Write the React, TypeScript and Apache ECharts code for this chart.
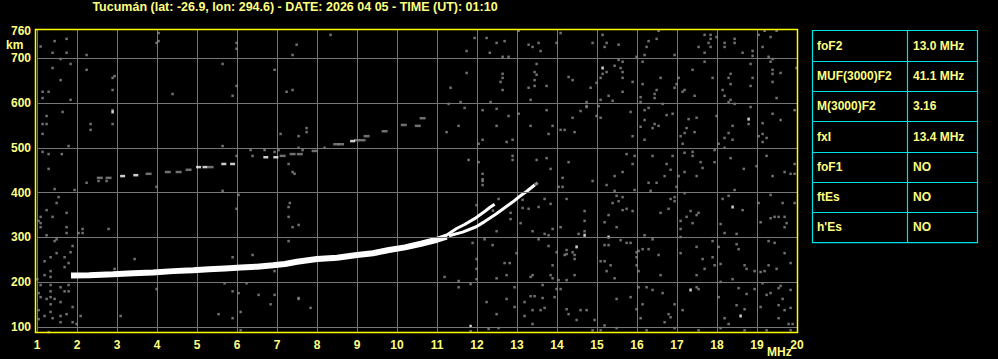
import React, { useEffect, useRef } from "react";
import * as echarts from "echarts";

const TITLE = "Tucumán (lat: -26.9, lon: 294.6) - DATE: 2026 04 05 - TIME (UT): 01:10";
const FREQ_MIN = 1;
const FREQ_MAX = 20;
const HEIGHT_MIN = 87;
const HEIGHT_MAX = 765;
const HEIGHT_GRID = [100, 200, 300, 400, 500, 600, 700];
const HEIGHT_LABELS = [100, 200, 300, 400, 500, 600, 700, 760];
const X_UNIT = "MHz";
const Y_UNIT = "km";

const TABLE_PARAMS = ["foF2", "MUF(3000)F2", "M(3000)F2", "fxI", "foF1", "ftEs", "h'Es"];
const TABLE_VALUES = ["13.0 MHz", "41.1 MHz", "3.16", "13.4 MHz", "NO", "NO", "NO"];

// F-layer trace [frequency MHz, virtual height km]
const MAIN_TRACE = [
  [1.85, 215], [2.3, 216], [2.9, 218], [3.4, 220], [3.9, 222], [4.4, 225], [4.9, 227],
  [5.3, 229], [5.7, 231], [6.1, 233], [6.5, 235], [6.9, 238], [7.2, 241], [7.5, 246],
  [8.0, 252], [8.5, 255], [9.0, 261], [9.4, 265], [9.8, 272], [10.2, 278], [10.6, 286],
  [11.0, 295], [11.24, 302],
];
const BRANCH_O = [
  [11.2, 303], [11.49, 320], [11.69, 329], [11.94, 342], [12.19, 358], [12.32, 367], [12.44, 374],
];
const BRANCH_X = [
  [11.3, 304], [11.64, 312], [11.98, 324], [12.2, 336], [12.44, 350], [12.64, 363], [12.89, 379],
  [13.07, 392], [13.23, 402], [13.44, 417],
];
const BRANCH_X_TAIL = [[13.44, 417], [13.52, 422]];

// second-hop echo
const HOP2_GRAY = [
  [2.57, 433], [2.79, 433], [3.79, 442], [4.27, 446], [4.54, 446], [4.79, 451], [5.34, 457],
  [7.14, 482], [7.39, 486], [7.57, 486], [7.94, 493], [8.48, 508], [8.6, 508], [9.0, 517],
  [9.14, 517], [9.24, 526], [9.69, 537], [10.17, 551], [10.52, 549], [10.64, 566],
];
const HOP2_WHITE = [
  [3.14, 437], [3.47, 439], [5.04, 457], [5.2, 457], [5.67, 464], [5.89, 464], [6.72, 479],
  [6.97, 479], [8.89, 515],
];

const NOISE_WHITE = [
  [2.89, 580], [15.14, 678], [18.79, 564], [18.39, 368], [14.69, 305], [15.29, 301],
  [14.49, 279], [17.34, 183], [18.59, 125], [11.84, 102],
];

const NOISE_GRAY = [
  [1.09, 726], [1.44, 738], [1.74, 743], [1.39, 712], [1.74, 712], [1.59, 698], [1.84, 687],
  [1.39, 678], [2.24, 707], [2.24, 674], [1.59, 651], [2.89, 656], [2.94, 660], [2.89, 629],
  [1.14, 625], [1.29, 625], [1.14, 611], [1.84, 607], [4.04, 756], [3.99, 734], [4.04, 738],
  [5.99, 734], [5.99, 721], [5.64, 687], [6.94, 674], [5.99, 638], [5.89, 616], [4.39, 620],
  [7.24, 625], [1.64, 580], [1.24, 571], [1.14, 553], [1.24, 553], [1.14, 531], [2.89, 584],
  [2.34, 553], [2.34, 540], [2.89, 553], [1.79, 504], [7.09, 531], [5.64, 504], [1.14, 491],
  [1.29, 486], [1.62, 486], [1.29, 453], [6.34, 495], [6.39, 482], [6.69, 495], [6.94, 491],
  [5.99, 482], [7.04, 495], [7.29, 464],
  [7.49, 730], [7.39, 707], [8.34, 752], [7.39, 629], [11.94, 745], [12.24, 745], [12.49, 734],
  [12.69, 738], [11.74, 716], [12.32, 712], [12.64, 703], [12.79, 703], [13.04, 761], [13.29, 730],
  [13.39, 725], [13.54, 734], [13.59, 716], [13.49, 687], [11.74, 667], [12.64, 665], [12.64, 656],
  [12.59, 647], [12.64, 629], [13.44, 669], [13.49, 663], [13.44, 651], [13.44, 638], [13.29, 634],
  [13.34, 607], [11.34, 634], [11.59, 602], [12.34, 602], [11.29, 598], [11.69, 589], [12.14, 584],
  [12.49, 587], [12.79, 571], [13.04, 576], [11.54, 549], [12.49, 549], [13.34, 549], [11.24, 535],
  [12.14, 518], [12.89, 518], [12.74, 513], [12.04, 509], [7.74, 544], [7.74, 535], [7.54, 526],
  [7.54, 500], [7.64, 495], [8.19, 500], [12.89, 482], [12.89, 473], [13.49, 473], [11.79, 473],
  [12.04, 468], [12.14, 442], [7.39, 446], [7.44, 442], [12.14, 430],
  [14.09, 756], [13.99, 734], [14.89, 734], [15.14, 752], [15.24, 734], [15.19, 725], [15.54, 730],
  [16.54, 761], [16.49, 743], [16.29, 738], [16.24, 725], [16.19, 707], [15.99, 703], [16.94, 707],
  [17.69, 752], [17.84, 752], [17.84, 743], [17.54, 725], [17.69, 712], [17.79, 734], [17.84, 725],
  [17.99, 747], [18.19, 734], [18.19, 725], [18.44, 743], [18.44, 734], [18.64, 712], [18.89, 716],
  [18.89, 705], [19.04, 752], [19.19, 761], [19.34, 747], [19.49, 761], [19.14, 725], [19.29, 703],
  [19.39, 698], [19.34, 692], [15.54, 696], [15.44, 683], [15.64, 692], [15.24, 669], [15.14, 665],
  [15.59, 678], [15.64, 669], [15.64, 656], [15.09, 656], [14.99, 645], [14.29, 658], [14.39, 651],
  [13.74, 638], [14.84, 634], [15.64, 625], [15.29, 616], [15.39, 605], [15.09, 607], [14.74, 602],
  [14.74, 591], [16.14, 692], [16.14, 642], [15.89, 647], [16.59, 656], [16.49, 629], [16.44, 620],
  [16.44, 611], [16.09, 613], [16.09, 602], [16.94, 634], [16.99, 642], [17.04, 656], [17.19, 629],
  [17.14, 625], [17.39, 674], [17.44, 616], [17.89, 656], [17.69, 692], [18.34, 665], [18.29, 656],
  [18.34, 642], [18.14, 629], [18.19, 616], [18.34, 607], [18.29, 602], [18.44, 598], [18.89, 656],
  [18.84, 638], [18.84, 687], [19.39, 674], [19.39, 665], [19.59, 667], [19.39, 647], [19.49, 611],
  [19.99, 678], [13.74, 584], [13.89, 549], [13.79, 531], [14.09, 540], [14.19, 540], [14.39, 567],
  [14.44, 535], [14.59, 582], [14.74, 593], [14.99, 571], [15.09, 567], [15.04, 593], [15.84, 580],
  [15.89, 526], [16.19, 584], [16.29, 589], [16.19, 562], [16.09, 547], [16.39, 544], [16.44, 553],
  [16.54, 549], [16.74, 573], [16.89, 576], [16.64, 598], [16.19, 518], [17.29, 564], [17.49, 567],
  [17.24, 544], [17.19, 533], [17.09, 526], [17.44, 535], [17.14, 509], [17.99, 571], [18.39, 549],
  [18.29, 533], [18.19, 522], [18.39, 518], [18.04, 509], [18.19, 500], [18.79, 553], [19.14, 555],
  [18.84, 591], [19.39, 576], [19.59, 562], [19.94, 584], [19.04, 526], [19.14, 531], [19.24, 522],
  [19.14, 513], [13.74, 477], [14.29, 468], [13.84, 453], [14.14, 433], [15.74, 486], [15.94, 482],
  [15.89, 464], [15.64, 446], [15.44, 437], [16.39, 482], [16.89, 482], [16.74, 464], [16.84, 451],
  [16.69, 437], [17.19, 489], [17.39, 491], [17.39, 482], [17.59, 468], [17.64, 455], [17.19, 446],
  [17.49, 437], [17.04, 437], [17.94, 495], [17.94, 468], [18.34, 477], [18.67, 453], [18.99, 459],
  [19.24, 482], [19.39, 437], [19.69, 446], [19.84, 442], [19.94, 464], [19.94, 442],
  [1.44, 408], [1.94, 406], [2.24, 422], [2.54, 426], [2.74, 426], [1.54, 390], [1.49, 377],
  [1.24, 361], [1.74, 355], [1.09, 346], [1.39, 346], [1.04, 337], [1.09, 332], [1.09, 323],
  [1.74, 323], [2.14, 319], [1.74, 310], [2.04, 310], [2.14, 310], [1.24, 305], [2.79, 319],
  [1.44, 292], [1.49, 296], [1.89, 281], [1.84, 267], [1.49, 265], [1.19, 247], [1.34, 256],
  [1.69, 256], [1.79, 243], [1.69, 234], [1.34, 225], [1.19, 216], [1.34, 212], [3.44, 252],
  [2.94, 230], [1.01, 207], [1.09, 194], [1.34, 194], [1.79, 194], [1.59, 189], [1.34, 180],
  [1.69, 180], [1.79, 180], [1.04, 176], [1.09, 167], [1.34, 167], [1.24, 163], [1.44, 163],
  [1.59, 156], [1.34, 151], [1.89, 145], [1.04, 138], [1.34, 134], [1.74, 129], [1.19, 125],
  [1.39, 120], [1.59, 125], [2.09, 125], [1.04, 118], [1.89, 111], [1.59, 111], [1.99, 107],
  [3.09, 125], [3.99, 413], [3.99, 185], [5.64, 404], [6.04, 395], [5.99, 364], [7.29, 368],
  [7.29, 346], [7.29, 292], [6.39, 261], [5.89, 256], [6.94, 225], [5.69, 198], [6.24, 198],
  [6.04, 176], [5.89, 180], [6.54, 172], [6.94, 172], [6.84, 151], [5.54, 129], [5.89, 120],
  [6.09, 134], [6.09, 93], [1.29, 89],
  [7.32, 377], [7.54, 328], [7.39, 323], [7.84, 143], [7.54, 165], [12.14, 417], [12.14, 426],
  [12.54, 386], [11.99, 372], [13.14, 384], [13.14, 366], [13.29, 364], [13.54, 368], [13.09, 332],
  [13.39, 314], [13.54, 296], [12.84, 355], [12.84, 341], [12.49, 314], [12.19, 296], [12.39, 283],
  [11.89, 288], [12.99, 265], [12.69, 243], [12.82, 243], [13.39, 216], [13.34, 212], [12.74, 216],
  [12.49, 209], [11.99, 252], [11.99, 230], [11.99, 207], [11.54, 203], [11.54, 189], [11.84, 196],
  [11.19, 212], [12.94, 189], [13.19, 156], [13.34, 169], [13.44, 169], [13.64, 165], [13.59, 138],
  [13.39, 138], [13.19, 125], [13.39, 107], [12.24, 156], [12.49, 129], [12.74, 163], [12.94, 145],
  [12.54, 98], [12.29, 96], [11.84, 91], [13.64, 194], [7.54, 163], [12.07, 328], [12.4, 360],
  [14.04, 413], [14.14, 413], [14.89, 426], [15.24, 417], [15.44, 404], [15.94, 406], [16.29, 422],
  [16.49, 422], [16.34, 404], [16.99, 413], [16.84, 386], [16.94, 390], [16.94, 381], [17.19, 399],
  [18.44, 406], [18.29, 393], [18.14, 386], [18.64, 361], [19.34, 395], [19.64, 377], [19.94, 377],
  [19.04, 377], [13.69, 386], [13.84, 375], [14.24, 386], [14.69, 359], [14.69, 337], [14.69, 314],
  [14.54, 308], [14.09, 323], [13.69, 308], [13.79, 305], [13.89, 319], [15.49, 393], [15.54, 381],
  [15.64, 390], [15.39, 377], [15.64, 361], [15.74, 364], [15.89, 359], [15.29, 350], [15.19, 334],
  [15.49, 323], [15.59, 294], [15.74, 288], [15.84, 288], [15.29, 283], [15.19, 283], [16.19, 305],
  [16.39, 296], [16.59, 355], [16.79, 364], [17.09, 337], [17.09, 319], [17.09, 301], [17.24, 346],
  [17.34, 359], [17.49, 350], [17.54, 355], [17.39, 332], [18.09, 330], [18.19, 310], [18.49, 308],
  [17.89, 292], [18.49, 285], [19.09, 334], [19.34, 343], [19.44, 346], [19.54, 346], [19.69, 346],
  [19.74, 332], [19.69, 323], [19.29, 292], [19.44, 288], [13.79, 281], [13.99, 267], [14.24, 272],
  [14.24, 263], [14.39, 267], [14.44, 261], [14.19, 261], [14.44, 252], [13.89, 238], [13.84, 216],
  [13.89, 209], [14.04, 205], [14.24, 205], [14.44, 216], [15.09, 247], [15.19, 247], [15.34, 238],
  [15.24, 225], [15.44, 209], [15.99, 267], [16.04, 270], [16.14, 274], [16.29, 274], [16.54, 261],
  [15.99, 256], [15.99, 238], [16.04, 225], [16.59, 216], [17.09, 265], [17.49, 279], [17.64, 252],
  [17.89, 256], [17.94, 238], [17.69, 230], [17.49, 216], [18.09, 241], [18.04, 279], [18.54, 274],
  [18.69, 238], [18.74, 230], [18.94, 225], [19.09, 223], [19.19, 225], [19.49, 230], [19.69, 265],
  [19.84, 243], [19.29, 238], [18.39, 207], [18.09, 201], [19.14, 198], [13.99, 185], [14.09, 185],
  [13.94, 167], [13.69, 143], [14.24, 140], [14.29, 129], [14.59, 138], [14.74, 138], [14.49, 116],
  [14.94, 116], [15.19, 104], [15.49, 163], [15.84, 167], [16.04, 189], [16.24, 189], [16.39, 183],
  [16.64, 176], [16.14, 151], [15.99, 140], [16.09, 120], [16.79, 129], [16.84, 122], [16.69, 111],
  [16.94, 151], [17.14, 138], [17.49, 189], [17.54, 185], [18.04, 167], [18.19, 120], [18.29, 107],
  [18.54, 187], [18.74, 174], [18.94, 185], [18.49, 149], [18.69, 140], [19.09, 145], [19.24, 172],
  [19.34, 176], [19.54, 187], [19.59, 192], [19.64, 163], [19.84, 183], [19.54, 149], [19.69, 138],
  [19.84, 143], [19.54, 120], [19.79, 107], [19.89, 107], [19.84, 93], [14.89, 93], [15.09, 93],
  [15.49, 98], [16.24, 93], [16.94, 98], [17.54, 93], [18.09, 98], [18.69, 93], [19.24, 93],
];

const FONT = '"Liberation Sans", Arial, sans-serif';
const TEXT_YELLOW = "#ffff80";
const FRAME_YELLOW = "#ffff00";
const CYAN = "#00e0e8";
const GRID_GRAY = "#767676";
const NOISE_COLOR = "#8c8c8c";

export default function App() {
  const ref = useRef<HTMLDivElement>(null);

  useEffect(() => {
    document.body.style.margin = "0";
    document.body.style.background = "#000";
    const chart = echarts.init(ref.current!, null, { renderer: "svg" });

    const tLeft = 812.5;
    const tRight = 977.5;
    const tMid = 907.5;
    const tTop = 30.5;
    const rowH = 30.3;
    const tableEls: any[] = [];
    const nRows = TABLE_PARAMS.length;
    tableEls.push({
      type: "rect",
      shape: { x: tLeft, y: tTop, width: tRight - tLeft, height: rowH * nRows },
      style: { fill: "none", stroke: CYAN, lineWidth: 1.2 },
    });
    tableEls.push({
      type: "line",
      shape: { x1: tMid, y1: tTop, x2: tMid, y2: tTop + rowH * nRows },
      style: { stroke: CYAN, lineWidth: 1.2 },
    });
    for (let i = 0; i < nRows; i++) {
      const yTop = Math.round(tTop + rowH * i) + 0.5;
      if (i > 0) {
        tableEls.push({
          type: "line",
          shape: { x1: tLeft, y1: yTop, x2: tRight, y2: yTop },
          style: { stroke: CYAN, lineWidth: 1.2 },
        });
      }
      const yc = tTop + rowH * (i + 0.5);
      tableEls.push({
        type: "text",
        style: {
          text: TABLE_PARAMS[i], x: 817, y: yc, fill: TEXT_YELLOW,
          font: `bold 12px ${FONT}`, textAlign: "left", textVerticalAlign: "middle",
        },
      });
      tableEls.push({
        type: "text",
        style: {
          text: TABLE_VALUES[i], x: 913, y: yc, fill: TEXT_YELLOW,
          font: `bold 12px ${FONT}`, textAlign: "left", textVerticalAlign: "middle",
        },
      });
    }

    chart.setOption({
      animation: false,
      backgroundColor: "#000",
      grid: {
        left: 37, top: 29, width: 760, height: 304,
        outerBoundsMode: "none", containLabel: false,
      },
      xAxis: {
        type: "value", min: FREQ_MIN, max: FREQ_MAX, interval: 1,
        axisLine: { show: false }, axisTick: { show: false },
        splitLine: { show: true, lineStyle: { color: GRID_GRAY, width: 1 } },
        axisLabel: {
          color: TEXT_YELLOW, fontWeight: "bold", fontSize: 12, fontFamily: FONT, margin: 6,
        },
      },
      yAxis: {
        type: "value", min: HEIGHT_MIN, max: HEIGHT_MAX,
        axisLine: { show: false }, axisTick: { show: false },
        splitLine: { show: false },
        axisLabel: {
          customValues: HEIGHT_LABELS,
          color: TEXT_YELLOW, fontWeight: "bold", fontSize: 12, fontFamily: FONT, margin: 6,
        },
      },
      graphic: [
        {
          type: "text",
          style: {
            text: TITLE, x: 295, y: 7, fill: TEXT_YELLOW, font: `bold 12.5px ${FONT}`,
            textAlign: "center", textVerticalAlign: "middle",
          },
        },
        {
          type: "text",
          style: {
            text: Y_UNIT, x: 6, y: 45, fill: TEXT_YELLOW, font: `bold 12px ${FONT}`,
            textAlign: "left", textVerticalAlign: "middle",
          },
        },
        {
          type: "text",
          style: {
            text: X_UNIT, x: 767, y: 352, fill: TEXT_YELLOW, font: `bold 12px ${FONT}`,
            textAlign: "left", textVerticalAlign: "middle",
          },
        },
        {
          type: "rect", z: 100,
          shape: { x: 35.5, y: 29.5, width: 762, height: 303 },
          style: { fill: "none", stroke: FRAME_YELLOW, lineWidth: 1.5 },
        },
        ...tableEls,
      ],
      series: [
        {
          type: "scatter", silent: true, data: NOISE_GRAY, symbol: "rect", symbolSize: [2.5, 2.5],
          itemStyle: { color: NOISE_COLOR },
          markLine: {
            silent: true, symbol: ["none", "none"], label: { show: false },
            lineStyle: { color: GRID_GRAY, width: 1, type: "solid" },
            data: HEIGHT_GRID.map((v) => ({ yAxis: v })),
          },
        },
        {
          type: "scatter", silent: true, data: NOISE_WHITE, symbol: "rect", symbolSize: [2.5, 3],
          itemStyle: { color: "#ffffff" },
        },
        {
          type: "scatter", silent: true, data: HOP2_GRAY, symbol: "rect", symbolSize: [6, 2.5],
          itemStyle: { color: NOISE_COLOR },
        },
        {
          type: "scatter", silent: true, data: HOP2_WHITE, symbol: "rect", symbolSize: [5, 2.5],
          itemStyle: { color: "#ffffff" },
        },
        {
          type: "line", silent: true, data: MAIN_TRACE, symbol: "none", showSymbol: false,
          lineStyle: { color: "#ffffff", width: 6 },
        },
        {
          type: "line", silent: true, data: BRANCH_O, symbol: "none", showSymbol: false,
          lineStyle: { color: "#ffffff", width: 3 },
        },
        {
          type: "line", silent: true, data: BRANCH_X, symbol: "none", showSymbol: false,
          lineStyle: { color: "#ffffff", width: 3 },
        },
        {
          type: "line", silent: true, data: BRANCH_X_TAIL, symbol: "none", showSymbol: false,
          lineStyle: { color: NOISE_COLOR, width: 3 },
        },
      ],
    });

    return () => chart.dispose();
  }, []);

  return (
    <div style={{ width: 998, height: 359, background: "#000", margin: 0 }}>
      <div ref={ref} style={{ width: 998, height: 359 }} />
    </div>
  );
}
